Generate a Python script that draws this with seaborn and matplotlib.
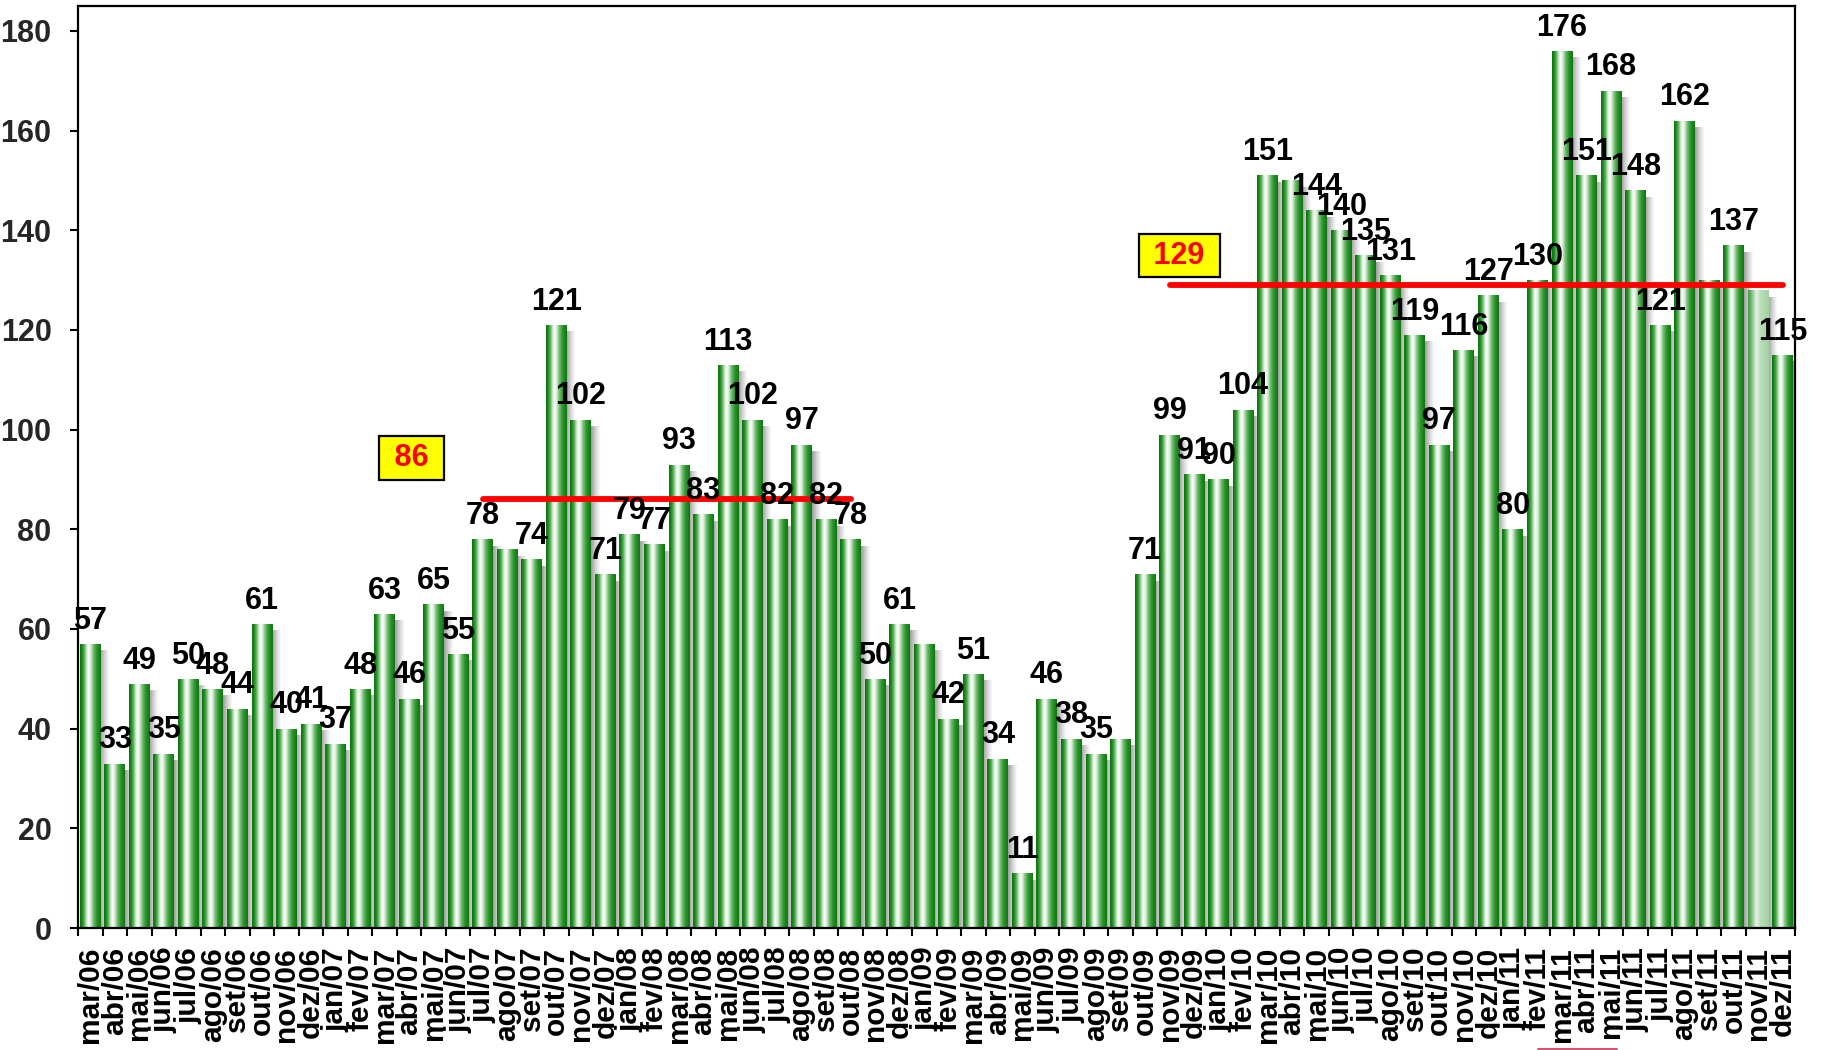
import numpy as np
import pandas as pd
import matplotlib
matplotlib.use("Agg")
import matplotlib.pyplot as plt
from matplotlib.colors import LinearSegmentedColormap
from matplotlib.lines import Line2D
import seaborn as sns

# Monthly counts, mar/06 .. dez/11
months = [
    "mar/06", "abr/06", "mai/06", "jun/06", "jul/06", "ago/06", "set/06", "out/06", "nov/06", "dez/06",
    "jan/07", "fev/07", "mar/07", "abr/07", "mai/07", "jun/07", "jul/07", "ago/07", "set/07", "out/07", "nov/07", "dez/07",
    "jan/08", "fev/08", "mar/08", "abr/08", "mai/08", "jun/08", "jul/08", "ago/08", "set/08", "out/08", "nov/08", "dez/08",
    "jan/09", "fev/09", "mar/09", "abr/09", "mai/09", "jun/09", "jul/09", "ago/09", "set/09", "out/09", "nov/09", "dez/09",
    "jan/10", "fev/10", "mar/10", "abr/10", "mai/10", "jun/10", "jul/10", "ago/10", "set/10", "out/10", "nov/10", "dez/10",
    "jan/11", "fev/11", "mar/11", "abr/11", "mai/11", "jun/11", "jul/11", "ago/11", "set/11", "out/11", "nov/11", "dez/11",
]
counts = [
    57, 33, 49, 35, 50, 48, 44, 61, 40, 41,
    37, 48, 63, 46, 65, 55, 78, 76, 74, 121, 102, 71,
    79, 77, 93, 83, 113, 102, 82, 97, 82, 78, 50, 61,
    57, 42, 51, 34, 11, 46, 38, 35, 38, 71, 99, 91,
    90, 104, 151, 150, 144, 140, 135, 131, 119, 97, 116, 127,
    80, 130, 176, 151, 168, 148, 121, 162, 130, 137, 128, 115,
]
# months whose bar carries no value label
unlabeled_months = ["ago/07", "jan/09", "set/09", "abr/10", "set/11", "nov/11"]
# bar drawn in a pale tone
pale_month = "nov/11"

# period averages: first month, last month, value
avg_start = ["jul/07", "nov/09"]
avg_end = ["out/08", "dez/11"]
avg_values = [86, 129]

# placement of the average boxes (category position, y)
AVG_BOX_POS = [(13.1, 94.3), (44.4, 134.9)]

df = pd.DataFrame({"month": months, "count": counts})

W, H, DPI = 1835, 1050, 100
fig = plt.figure(figsize=(W / DPI, H / DPI), dpi=DPI)
sns.set_theme(style="white")
plt.rcParams["font.family"] = ["Liberation Sans", "DejaVu Sans"]
NARROW = ["Liberation Sans Narrow", "Liberation Sans", "DejaVu Sans"]
WIDE = ["Liberation Sans", "DejaVu Sans"]

ax = fig.add_axes([78 / W, 1 - 928 / H, (1795 - 78) / W, (928 - 6) / H])

sns.barplot(data=df, x="month", y="count", color="#1f8f1f", saturation=1,
            width=0.85, ax=ax, zorder=2, edgecolor="none")

green = LinearSegmentedColormap.from_list("cyl", [
    (0.00, "#0a740a"), (0.08, "#148414"), (0.20, "#56ab56"), (0.31, "#c4e6c4"),
    (0.41, "#ffffff"), (0.51, "#d6eed6"), (0.63, "#78bf78"), (0.80, "#2c932c"),
    (1.00, "#0c780c")])
pale = LinearSegmentedColormap.from_list("cyl_pale", [
    (0.00, "#3f9a3f"), (0.15, "#73b873"), (0.40, "#e6f4e6"), (0.60, "#b9deb9"),
    (1.00, "#a3d1a3")])

grad = np.linspace(0, 1, 256).reshape(1, -1)
shadow = np.zeros((1, 64, 4))
shadow[..., :3] = 0.55
shadow[..., 3] = np.linspace(0.9, 0.0, 64) ** 1.3

for p, m in zip(ax.patches, months):
    x0, w, h = p.get_x(), p.get_width(), p.get_height()
    # soft drop shadow on the right side of each bar
    ax.imshow(shadow, extent=[x0 + w - 0.02, x0 + w + 0.36, 0, max(h - 1.4, 0)],
              aspect="auto", interpolation="bilinear", zorder=1.5)
    cmap = pale if m == pale_month else green
    im = ax.imshow(grad, cmap=cmap, extent=[x0, x0 + w, 0, h], aspect="auto",
                   interpolation="bilinear", zorder=2.5)
    im.set_clip_path(p)

ax.set_aspect("auto")
ax.set_xlim(-0.5, len(months) - 0.5)
ax.set_ylim(0, 185)

# value labels
for i, (m, v) in enumerate(zip(months, counts)):
    if m in unlabeled_months:
        continue
    ax.annotate(str(v), xy=(i, v), xytext=(0, 11), textcoords="offset points",
                ha="center", va="baseline", fontsize=22, fontweight="bold",
                family=NARROW, color="black", zorder=6)

# period average lines with their boxes
for s, e, val, (bx, by) in zip(avg_start, avg_end, avg_values, AVG_BOX_POS):
    i0, i1 = months.index(s), months.index(e)
    ax.plot([i0, i1], [val, val], color="#ff0000", lw=4.2,
            solid_capstyle="round", zorder=5)
    ax.text(bx, by, f" {val} ", ha="center", va="center", fontsize=22,
            fontweight="bold", family=NARROW, color="#ff0000", zorder=7,
            bbox=dict(boxstyle="square,pad=0.22", fc="#ffff00", ec="black", lw=1.6))

# axes frame and ticks
for sp in ax.spines.values():
    sp.set_visible(True)
    sp.set_color("black")
    sp.set_linewidth(1.6)

ax.set_xlabel("")
ax.set_ylabel("")
ax.set_xticks(range(len(months)))
ax.set_xticklabels(months, rotation=90, fontsize=21.5, fontweight="bold", family=WIDE)
ax.set_xticks(np.arange(-0.5, len(months), 1), minor=True)
ax.tick_params(axis="x", which="major", length=0, pad=13.5, colors="black")
ax.tick_params(axis="x", which="minor", bottom=True, length=6, width=1.5,
               direction="out", color="black")
ax.set_yticks(range(0, 181, 20))
ax.set_yticklabels([str(t) for t in range(0, 181, 20)], fontsize=22,
                   fontweight="bold", family=NARROW)
ax.tick_params(axis="y", which="major", left=True, length=5.5, width=1.5,
               direction="out", color="black", pad=13.5)
ax.grid(False)
ax.set_facecolor("white")

fig.add_artist(Line2D([1538 / W, 1617 / W], [1.2 / H, 1.2 / H], color="#d4506e", lw=1.4))

fig.savefig("out.png", dpi=DPI, facecolor="white")
